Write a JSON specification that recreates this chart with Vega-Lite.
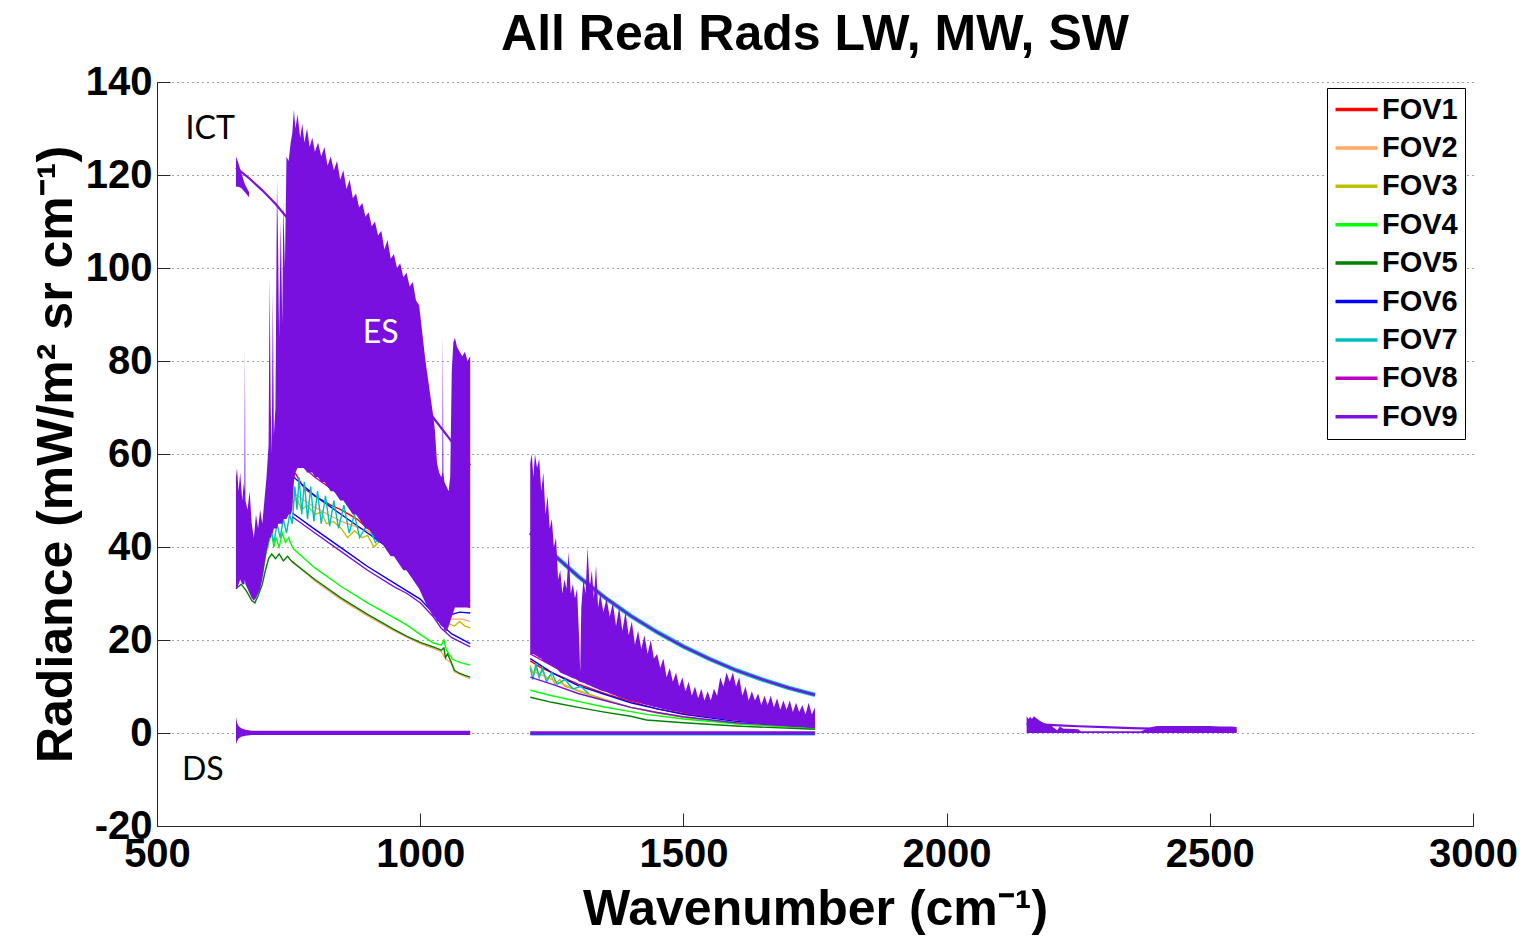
{
"$schema": "https://vega.github.io/schema/vega-lite/v6.json",
"width": 1316, "height": 744,
"autosize": {"type": "none"},
"padding": {"left": 157, "top": 82, "right": 49, "bottom": 113},
"background": "white",
"title": {"text": "All Real Rads LW, MW, SW", "font": "Liberation Sans", "fontSize": 50, "fontWeight": "bold", "anchor": "middle", "frame": "group", "baseline": "alphabetic", "offset": 14, "dy": 52, "color": "black"},
"config": {
  "view": {"stroke": null},
  "axisX": {"grid": false, "tickSize": -13, "labelPadding": 21, "labelFontSize": 40, "labelFont": "Liberation Sans", "labelFontWeight": "bold", "labelColor": "black", "labelOverlap": false, "labelFlush": false, "titleFontSize": 50, "titleFont": "Liberation Sans", "titleFontWeight": "bold", "titleColor": "black", "titlePadding": 10, "domainColor": "#262626", "tickColor": "#262626"},
  "axisY": {"grid": true, "gridDash": [1,4], "gridColor": "#444", "tickSize": -13, "labelPadding": 18, "labelFontSize": 40, "labelFont": "Liberation Sans", "labelFontWeight": "bold", "labelColor": "black", "labelOverlap": false, "labelFlush": false, "titleFontSize": 50, "titleFont": "Liberation Sans", "titleFontWeight": "bold", "titleColor": "black", "titlePadding": 4, "domainColor": "#262626", "tickColor": "#262626"},
  "legend": {"title": null, "orient": "none", "legendX": 1170, "legendY": 6, "strokeColor": "black", "fillColor": "white", "padding": 7, "symbolType": "M-1.75,0H1.75", "symbolSize": 576, "symbolStrokeWidth": 3.5, "symbolOffset": 8, "labelOffset": 11, "labelFontSize": 29, "labelFont": "Liberation Sans", "labelFontWeight": "bold", "labelColor": "black", "rowPadding": 8.4}
},
"datasets": {
"spec": [
{"fov":"FOV1","grp":"1L","wn":762,"rad":56},{"fov":"FOV1","grp":"1L","wn":780,"rad":52.5},{"fov":"FOV1","grp":"1L","wn":800,"rad":51},{"fov":"FOV1","grp":"1L","wn":830,"rad":49},{"fov":"FOV1","grp":"1L","wn":850,"rad":48},{"fov":"FOV1","grp":"1L","wn":880,"rad":46},{"fov":"FOV1","grp":"1L","wn":900,"rad":44},{"fov":"FOV1","grp":"1L","wn":930,"rad":42},{"fov":"FOV1","grp":"1L","wn":950,"rad":40},{"fov":"FOV1","grp":"1L","wn":975,"rad":37},{"fov":"FOV1","grp":"1L","wn":1000,"rad":33},{"fov":"FOV1","grp":"1L","wn":1020,"rad":30},{"fov":"FOV1","grp":"1L","wn":1040,"rad":28},{"fov":"FOV1","grp":"1L","wn":1060,"rad":27.5},{"fov":"FOV1","grp":"1L","wn":1080,"rad":27.5},{"fov":"FOV1","grp":"1L","wn":1095,"rad":27},
{"fov":"FOV1","grp":"1M","wn":1209,"rad":15.5},{"fov":"FOV1","grp":"1M","wn":1230,"rad":14},{"fov":"FOV1","grp":"1M","wn":1260,"rad":12.5},{"fov":"FOV1","grp":"1M","wn":1300,"rad":10.5},{"fov":"FOV1","grp":"1M","wn":1350,"rad":8.5},{"fov":"FOV1","grp":"1M","wn":1400,"rad":6.8},{"fov":"FOV1","grp":"1M","wn":1450,"rad":5.2},{"fov":"FOV1","grp":"1M","wn":1500,"rad":4.2},{"fov":"FOV1","grp":"1M","wn":1600,"rad":2.8},{"fov":"FOV1","grp":"1M","wn":1750,"rad":1.5},
{"fov":"FOV2","grp":"2La","wn":760,"rad":51.5},{"fov":"FOV2","grp":"2La","wn":800,"rad":48.5},{"fov":"FOV2","grp":"2La","wn":850,"rad":45.5},{"fov":"FOV2","grp":"2La","wn":900,"rad":43.5},{"fov":"FOV2","grp":"2La","wn":950,"rad":39},{"fov":"FOV2","grp":"2La","wn":975,"rad":36.5},{"fov":"FOV2","grp":"2La","wn":1000,"rad":32.5},{"fov":"FOV2","grp":"2La","wn":1024,"rad":27.5},{"fov":"FOV2","grp":"2La","wn":1040,"rad":25.5},{"fov":"FOV2","grp":"2La","wn":1060,"rad":24.5},{"fov":"FOV2","grp":"2La","wn":1080,"rad":24.5},{"fov":"FOV2","grp":"2La","wn":1095,"rad":24},
{"fov":"FOV2","grp":"2Lb","wn":757,"rad":37},{"fov":"FOV2","grp":"2Lb","wn":800,"rad":32.7},{"fov":"FOV2","grp":"2Lb","wn":850,"rad":28.7},{"fov":"FOV2","grp":"2Lb","wn":900,"rad":25.2},{"fov":"FOV2","grp":"2Lb","wn":950,"rad":22},{"fov":"FOV2","grp":"2Lb","wn":1000,"rad":19.2},{"fov":"FOV2","grp":"2Lb","wn":1025,"rad":18.2},{"fov":"FOV2","grp":"2Lb","wn":1040,"rad":17.5},{"fov":"FOV2","grp":"2Lb","wn":1048,"rad":16},{"fov":"FOV2","grp":"2Lb","wn":1058,"rad":15.2},{"fov":"FOV2","grp":"2Lb","wn":1065,"rad":13.2},{"fov":"FOV2","grp":"2Lb","wn":1080,"rad":12.4},{"fov":"FOV2","grp":"2Lb","wn":1095,"rad":11.7},
{"fov":"FOV2","grp":"2M","wn":1209,"rad":13.5},{"fov":"FOV2","grp":"2M","wn":1230,"rad":12.5},{"fov":"FOV2","grp":"2M","wn":1260,"rad":11},{"fov":"FOV2","grp":"2M","wn":1300,"rad":9.2},{"fov":"FOV2","grp":"2M","wn":1350,"rad":7.2},{"fov":"FOV2","grp":"2M","wn":1400,"rad":5.5},{"fov":"FOV2","grp":"2M","wn":1500,"rad":3.4},{"fov":"FOV2","grp":"2M","wn":1600,"rad":2.2},{"fov":"FOV2","grp":"2M","wn":1750,"rad":1.1},
{"fov":"FOV3","grp":"3L","wn":757,"rad":49.5},{"fov":"FOV3","grp":"3L","wn":765,"rad":50.5},{"fov":"FOV3","grp":"3L","wn":775,"rad":48},{"fov":"FOV3","grp":"3L","wn":785,"rad":49},{"fov":"FOV3","grp":"3L","wn":800,"rad":47},{"fov":"FOV3","grp":"3L","wn":812,"rad":47.5},{"fov":"FOV3","grp":"3L","wn":822,"rad":45},{"fov":"FOV3","grp":"3L","wn":835,"rad":45.5},{"fov":"FOV3","grp":"3L","wn":850,"rad":44},{"fov":"FOV3","grp":"3L","wn":862,"rad":42},{"fov":"FOV3","grp":"3L","wn":875,"rad":43.5},{"fov":"FOV3","grp":"3L","wn":890,"rad":42},{"fov":"FOV3","grp":"3L","wn":900,"rad":42.5},{"fov":"FOV3","grp":"3L","wn":912,"rad":40},{"fov":"FOV3","grp":"3L","wn":925,"rad":41.5},{"fov":"FOV3","grp":"3L","wn":937,"rad":40.8},{"fov":"FOV3","grp":"3L","wn":950,"rad":38.5},{"fov":"FOV3","grp":"3L","wn":962,"rad":37.5},{"fov":"FOV3","grp":"3L","wn":975,"rad":35},{"fov":"FOV3","grp":"3L","wn":990,"rad":33},{"fov":"FOV3","grp":"3L","wn":1000,"rad":31},{"fov":"FOV3","grp":"3L","wn":1012,"rad":29},{"fov":"FOV3","grp":"3L","wn":1024,"rad":26},{"fov":"FOV3","grp":"3L","wn":1035,"rad":24.5},{"fov":"FOV3","grp":"3L","wn":1045,"rad":23.5},{"fov":"FOV3","grp":"3L","wn":1050,"rad":22},{"fov":"FOV3","grp":"3L","wn":1055,"rad":23.5},{"fov":"FOV3","grp":"3L","wn":1065,"rad":23},{"fov":"FOV3","grp":"3L","wn":1075,"rad":24},{"fov":"FOV3","grp":"3L","wn":1085,"rad":23},{"fov":"FOV3","grp":"3L","wn":1095,"rad":22.6},
{"fov":"FOV3","grp":"3M","wn":1209,"rad":14.5},{"fov":"FOV3","grp":"3M","wn":1215,"rad":12.5},{"fov":"FOV3","grp":"3M","wn":1220,"rad":14},{"fov":"FOV3","grp":"3M","wn":1226,"rad":12},{"fov":"FOV3","grp":"3M","wn":1232,"rad":13.5},{"fov":"FOV3","grp":"3M","wn":1240,"rad":11.5},{"fov":"FOV3","grp":"3M","wn":1248,"rad":12.5},{"fov":"FOV3","grp":"3M","wn":1256,"rad":10.5},{"fov":"FOV3","grp":"3M","wn":1265,"rad":11.5},{"fov":"FOV3","grp":"3M","wn":1275,"rad":10},{"fov":"FOV3","grp":"3M","wn":1290,"rad":9.5},{"fov":"FOV3","grp":"3M","wn":1300,"rad":9},{"fov":"FOV3","grp":"3M","wn":1350,"rad":7.2},{"fov":"FOV3","grp":"3M","wn":1400,"rad":5.5},{"fov":"FOV3","grp":"3M","wn":1450,"rad":4.3},{"fov":"FOV3","grp":"3M","wn":1500,"rad":3.4},{"fov":"FOV3","grp":"3M","wn":1600,"rad":2},{"fov":"FOV3","grp":"3M","wn":1750,"rad":1},
{"fov":"FOV4","grp":"4L","wn":700,"rad":34},{"fov":"FOV4","grp":"4L","wn":706,"rad":38},{"fov":"FOV4","grp":"4L","wn":712,"rad":41},{"fov":"FOV4","grp":"4L","wn":718,"rad":43},{"fov":"FOV4","grp":"4L","wn":722,"rad":40},{"fov":"FOV4","grp":"4L","wn":726,"rad":42},{"fov":"FOV4","grp":"4L","wn":732,"rad":40},{"fov":"FOV4","grp":"4L","wn":738,"rad":43},{"fov":"FOV4","grp":"4L","wn":744,"rad":41},{"fov":"FOV4","grp":"4L","wn":750,"rad":42},{"fov":"FOV4","grp":"4L","wn":757,"rad":40},{"fov":"FOV4","grp":"4L","wn":760,"rad":39.5},{"fov":"FOV4","grp":"4L","wn":800,"rad":35.5},{"fov":"FOV4","grp":"4L","wn":850,"rad":31.5},{"fov":"FOV4","grp":"4L","wn":900,"rad":28},{"fov":"FOV4","grp":"4L","wn":950,"rad":24.8},{"fov":"FOV4","grp":"4L","wn":975,"rad":23.2},{"fov":"FOV4","grp":"4L","wn":1000,"rad":21.2},{"fov":"FOV4","grp":"4L","wn":1024,"rad":19.4},{"fov":"FOV4","grp":"4L","wn":1040,"rad":18.9},{"fov":"FOV4","grp":"4L","wn":1045,"rad":20},{"fov":"FOV4","grp":"4L","wn":1050,"rad":17.8},{"fov":"FOV4","grp":"4L","wn":1056,"rad":16.8},{"fov":"FOV4","grp":"4L","wn":1062,"rad":15.8},{"fov":"FOV4","grp":"4L","wn":1075,"rad":15.2},{"fov":"FOV4","grp":"4L","wn":1095,"rad":14.6},
{"fov":"FOV4","grp":"4M","wn":1209,"rad":9.2},{"fov":"FOV4","grp":"4M","wn":1250,"rad":8},{"fov":"FOV4","grp":"4M","wn":1300,"rad":6.8},{"fov":"FOV4","grp":"4M","wn":1350,"rad":5.6},{"fov":"FOV4","grp":"4M","wn":1400,"rad":4.6},{"fov":"FOV4","grp":"4M","wn":1430,"rad":4},{"fov":"FOV4","grp":"4M","wn":1500,"rad":3},{"fov":"FOV4","grp":"4M","wn":1600,"rad":2},{"fov":"FOV4","grp":"4M","wn":1750,"rad":1},
{"fov":"FOV5","grp":"5L","wn":650,"rad":31},{"fov":"FOV5","grp":"5L","wn":660,"rad":32},{"fov":"FOV5","grp":"5L","wn":670,"rad":30.5},{"fov":"FOV5","grp":"5L","wn":680,"rad":28.5},{"fov":"FOV5","grp":"5L","wn":686,"rad":28},{"fov":"FOV5","grp":"5L","wn":692,"rad":29.5},{"fov":"FOV5","grp":"5L","wn":700,"rad":32},{"fov":"FOV5","grp":"5L","wn":706,"rad":35},{"fov":"FOV5","grp":"5L","wn":712,"rad":37.5},{"fov":"FOV5","grp":"5L","wn":718,"rad":38.5},{"fov":"FOV5","grp":"5L","wn":725,"rad":37.5},{"fov":"FOV5","grp":"5L","wn":732,"rad":38.5},{"fov":"FOV5","grp":"5L","wn":740,"rad":37},{"fov":"FOV5","grp":"5L","wn":748,"rad":38},{"fov":"FOV5","grp":"5L","wn":757,"rad":36.8},{"fov":"FOV5","grp":"5L","wn":800,"rad":33},{"fov":"FOV5","grp":"5L","wn":850,"rad":29},{"fov":"FOV5","grp":"5L","wn":900,"rad":25.5},{"fov":"FOV5","grp":"5L","wn":950,"rad":22.3},{"fov":"FOV5","grp":"5L","wn":975,"rad":20.8},{"fov":"FOV5","grp":"5L","wn":1000,"rad":19.5},{"fov":"FOV5","grp":"5L","wn":1025,"rad":18.5},{"fov":"FOV5","grp":"5L","wn":1040,"rad":17.8},{"fov":"FOV5","grp":"5L","wn":1045,"rad":18.3},{"fov":"FOV5","grp":"5L","wn":1048,"rad":16.2},{"fov":"FOV5","grp":"5L","wn":1052,"rad":17},{"fov":"FOV5","grp":"5L","wn":1058,"rad":15.5},{"fov":"FOV5","grp":"5L","wn":1065,"rad":13.5},{"fov":"FOV5","grp":"5L","wn":1075,"rad":12.8},{"fov":"FOV5","grp":"5L","wn":1085,"rad":12.4},{"fov":"FOV5","grp":"5L","wn":1095,"rad":12},
{"fov":"FOV5","grp":"5M","wn":1209,"rad":7.7},{"fov":"FOV5","grp":"5M","wn":1250,"rad":6.6},{"fov":"FOV5","grp":"5M","wn":1300,"rad":5.5},{"fov":"FOV5","grp":"5M","wn":1350,"rad":4.5},{"fov":"FOV5","grp":"5M","wn":1400,"rad":3.6},{"fov":"FOV5","grp":"5M","wn":1430,"rad":2.8},{"fov":"FOV5","grp":"5M","wn":1500,"rad":2.2},{"fov":"FOV5","grp":"5M","wn":1600,"rad":1.5},{"fov":"FOV5","grp":"5M","wn":1750,"rad":0.8},
{"fov":"FOV6","grp":"6La","wn":760,"rad":55},{"fov":"FOV6","grp":"6La","wn":780,"rad":53},{"fov":"FOV6","grp":"6La","wn":800,"rad":51},{"fov":"FOV6","grp":"6La","wn":825,"rad":49},{"fov":"FOV6","grp":"6La","wn":850,"rad":47},{"fov":"FOV6","grp":"6La","wn":875,"rad":45},{"fov":"FOV6","grp":"6La","wn":900,"rad":43},{"fov":"FOV6","grp":"6La","wn":925,"rad":41},{"fov":"FOV6","grp":"6La","wn":950,"rad":39},{"fov":"FOV6","grp":"6La","wn":975,"rad":36.8},{"fov":"FOV6","grp":"6La","wn":1000,"rad":34},{"fov":"FOV6","grp":"6La","wn":1020,"rad":30.5},{"fov":"FOV6","grp":"6La","wn":1040,"rad":27},{"fov":"FOV6","grp":"6La","wn":1050,"rad":25},{"fov":"FOV6","grp":"6La","wn":1060,"rad":25.5},{"fov":"FOV6","grp":"6La","wn":1075,"rad":26},{"fov":"FOV6","grp":"6La","wn":1095,"rad":25.8},
{"fov":"FOV6","grp":"6Lb","wn":757,"rad":47.3},{"fov":"FOV6","grp":"6Lb","wn":800,"rad":43.8},{"fov":"FOV6","grp":"6Lb","wn":850,"rad":39.8},{"fov":"FOV6","grp":"6Lb","wn":900,"rad":35.8},{"fov":"FOV6","grp":"6Lb","wn":950,"rad":32.3},{"fov":"FOV6","grp":"6Lb","wn":1000,"rad":28.8},{"fov":"FOV6","grp":"6Lb","wn":1025,"rad":25.8},{"fov":"FOV6","grp":"6Lb","wn":1040,"rad":23.3},{"fov":"FOV6","grp":"6Lb","wn":1060,"rad":21.3},{"fov":"FOV6","grp":"6Lb","wn":1095,"rad":19.2},
{"fov":"FOV6","grp":"6M","wn":1209,"rad":16},{"fov":"FOV6","grp":"6M","wn":1250,"rad":13},{"fov":"FOV6","grp":"6M","wn":1300,"rad":10.2},{"fov":"FOV6","grp":"6M","wn":1350,"rad":8.3},{"fov":"FOV6","grp":"6M","wn":1400,"rad":6.5},{"fov":"FOV6","grp":"6M","wn":1450,"rad":5.2},{"fov":"FOV6","grp":"6M","wn":1500,"rad":4},{"fov":"FOV6","grp":"6M","wn":1600,"rad":2.5},{"fov":"FOV6","grp":"6M","wn":1750,"rad":1.3},
{"fov":"FOV6","grp":"6D","wn":1209,"rad":-0.3},{"fov":"FOV6","grp":"6D","wn":1750,"rad":-0.3},
{"fov":"FOV7","grp":"7L","wn":710,"rad":40},{"fov":"FOV7","grp":"7L","wn":716,"rad":44},{"fov":"FOV7","grp":"7L","wn":722,"rad":41},{"fov":"FOV7","grp":"7L","wn":728,"rad":45},{"fov":"FOV7","grp":"7L","wn":734,"rad":42},{"fov":"FOV7","grp":"7L","wn":740,"rad":46},{"fov":"FOV7","grp":"7L","wn":746,"rad":43},{"fov":"FOV7","grp":"7L","wn":752,"rad":47},{"fov":"FOV7","grp":"7L","wn":757,"rad":45},{"fov":"FOV7","grp":"7L","wn":762,"rad":53},{"fov":"FOV7","grp":"7L","wn":766,"rad":48},{"fov":"FOV7","grp":"7L","wn":770,"rad":55},{"fov":"FOV7","grp":"7L","wn":775,"rad":47},{"fov":"FOV7","grp":"7L","wn":780,"rad":54},{"fov":"FOV7","grp":"7L","wn":786,"rad":46},{"fov":"FOV7","grp":"7L","wn":792,"rad":53},{"fov":"FOV7","grp":"7L","wn":798,"rad":45.5},{"fov":"FOV7","grp":"7L","wn":805,"rad":52},{"fov":"FOV7","grp":"7L","wn":812,"rad":45},{"fov":"FOV7","grp":"7L","wn":820,"rad":51},{"fov":"FOV7","grp":"7L","wn":828,"rad":44.5},{"fov":"FOV7","grp":"7L","wn":836,"rad":50},{"fov":"FOV7","grp":"7L","wn":845,"rad":44},{"fov":"FOV7","grp":"7L","wn":855,"rad":49},{"fov":"FOV7","grp":"7L","wn":865,"rad":43},{"fov":"FOV7","grp":"7L","wn":875,"rad":47},{"fov":"FOV7","grp":"7L","wn":885,"rad":42},{"fov":"FOV7","grp":"7L","wn":900,"rad":45},{"fov":"FOV7","grp":"7L","wn":915,"rad":41},{"fov":"FOV7","grp":"7L","wn":930,"rad":43},{"fov":"FOV7","grp":"7L","wn":950,"rad":39},
{"fov":"FOV7","grp":"7M","wn":1209,"rad":14},{"fov":"FOV7","grp":"7M","wn":1214,"rad":11.5},{"fov":"FOV7","grp":"7M","wn":1220,"rad":15},{"fov":"FOV7","grp":"7M","wn":1226,"rad":12},{"fov":"FOV7","grp":"7M","wn":1232,"rad":14},{"fov":"FOV7","grp":"7M","wn":1240,"rad":11},{"fov":"FOV7","grp":"7M","wn":1250,"rad":13},{"fov":"FOV7","grp":"7M","wn":1260,"rad":10.5},{"fov":"FOV7","grp":"7M","wn":1275,"rad":11.5},{"fov":"FOV7","grp":"7M","wn":1290,"rad":9.5},{"fov":"FOV7","grp":"7M","wn":1305,"rad":10},{"fov":"FOV7","grp":"7M","wn":1320,"rad":8.5},
{"fov":"FOV7","grp":"7D","wn":1209,"rad":-0.4},{"fov":"FOV7","grp":"7D","wn":1750,"rad":-0.4},
{"fov":"FOV8","grp":"8L","wn":770,"rad":58},{"fov":"FOV8","grp":"8L","wn":800,"rad":55},{"fov":"FOV8","grp":"8L","wn":850,"rad":51},{"fov":"FOV8","grp":"8L","wn":900,"rad":47},{"fov":"FOV8","grp":"8L","wn":950,"rad":43},{"fov":"FOV8","grp":"8L","wn":1000,"rad":36},{"fov":"FOV8","grp":"8L","wn":1040,"rad":30},{"fov":"FOV8","grp":"8L","wn":1060,"rad":29},{"fov":"FOV8","grp":"8L","wn":1095,"rad":28.5},
{"fov":"FOV8","grp":"8M","wn":1209,"rad":17},{"fov":"FOV8","grp":"8M","wn":1250,"rad":14.5},{"fov":"FOV8","grp":"8M","wn":1300,"rad":11.5},{"fov":"FOV8","grp":"8M","wn":1400,"rad":7},{"fov":"FOV8","grp":"8M","wn":1500,"rad":4.5},{"fov":"FOV8","grp":"8M","wn":1750,"rad":1.8},
{"fov":"FOV9","grp":"9L","wn":757,"rad":46.5},{"fov":"FOV9","grp":"9L","wn":800,"rad":43},{"fov":"FOV9","grp":"9L","wn":850,"rad":39},{"fov":"FOV9","grp":"9L","wn":900,"rad":35},{"fov":"FOV9","grp":"9L","wn":950,"rad":31.5},{"fov":"FOV9","grp":"9L","wn":975,"rad":30},{"fov":"FOV9","grp":"9L","wn":1000,"rad":28},{"fov":"FOV9","grp":"9L","wn":1025,"rad":25},{"fov":"FOV9","grp":"9L","wn":1040,"rad":22.5},{"fov":"FOV9","grp":"9L","wn":1060,"rad":20.5},{"fov":"FOV9","grp":"9L","wn":1095,"rad":18.5},
{"fov":"FOV9","grp":"9M","wn":1209,"rad":12},{"fov":"FOV9","grp":"9M","wn":1250,"rad":10.5},{"fov":"FOV9","grp":"9M","wn":1300,"rad":8.5},{"fov":"FOV9","grp":"9M","wn":1350,"rad":7},{"fov":"FOV9","grp":"9M","wn":1400,"rad":5.5},{"fov":"FOV9","grp":"9M","wn":1450,"rad":4.4},{"fov":"FOV9","grp":"9M","wn":1500,"rad":3.5},{"fov":"FOV9","grp":"9M","wn":1600,"rad":2.2},{"fov":"FOV9","grp":"9M","wn":1750,"rad":1.2}
],
"ict": [
{"fov":"FOV7","grp":"7I","wn":1209,"rad":43.1},{"fov":"FOV7","grp":"7I","wn":1260,"rad":37.7},{"fov":"FOV7","grp":"7I","wn":1300,"rad":33.7},{"fov":"FOV7","grp":"7I","wn":1350,"rad":29.2},{"fov":"FOV7","grp":"7I","wn":1400,"rad":25.2},{"fov":"FOV7","grp":"7I","wn":1450,"rad":21.7},{"fov":"FOV7","grp":"7I","wn":1500,"rad":18.6},{"fov":"FOV7","grp":"7I","wn":1550,"rad":15.9},{"fov":"FOV7","grp":"7I","wn":1600,"rad":13.5},{"fov":"FOV7","grp":"7I","wn":1650,"rad":11.5},{"fov":"FOV7","grp":"7I","wn":1700,"rad":9.7},{"fov":"FOV7","grp":"7I","wn":1750,"rad":8.2},
{"fov":"FOV9","grp":"9IL","wn":650,"rad":121.6},{"fov":"FOV9","grp":"9IL","wn":675,"rad":119.3},{"fov":"FOV9","grp":"9IL","wn":700,"rad":116.7},{"fov":"FOV9","grp":"9IL","wn":725,"rad":113.8},{"fov":"FOV9","grp":"9IL","wn":750,"rad":110.4},{"fov":"FOV9","grp":"9IL","wn":800,"rad":103.2},{"fov":"FOV9","grp":"9IL","wn":850,"rad":95.5},{"fov":"FOV9","grp":"9IL","wn":900,"rad":87.4},{"fov":"FOV9","grp":"9IL","wn":950,"rad":79.5},{"fov":"FOV9","grp":"9IL","wn":1000,"rad":71.6},{"fov":"FOV9","grp":"9IL","wn":1025,"rad":67.8},{"fov":"FOV9","grp":"9IL","wn":1050,"rad":64.1},{"fov":"FOV9","grp":"9IL","wn":1075,"rad":60.4},{"fov":"FOV9","grp":"9IL","wn":1095,"rad":57.6},
{"fov":"FOV9","grp":"9IM","wn":1209,"rad":43.1},{"fov":"FOV9","grp":"9IM","wn":1260,"rad":37.7},{"fov":"FOV9","grp":"9IM","wn":1300,"rad":33.7},{"fov":"FOV9","grp":"9IM","wn":1350,"rad":29.2},{"fov":"FOV9","grp":"9IM","wn":1400,"rad":25.2},{"fov":"FOV9","grp":"9IM","wn":1450,"rad":21.7},{"fov":"FOV9","grp":"9IM","wn":1500,"rad":18.6},{"fov":"FOV9","grp":"9IM","wn":1550,"rad":15.9},{"fov":"FOV9","grp":"9IM","wn":1600,"rad":13.5},{"fov":"FOV9","grp":"9IM","wn":1650,"rad":11.5},{"fov":"FOV9","grp":"9IM","wn":1700,"rad":9.7},{"fov":"FOV9","grp":"9IM","wn":1750,"rad":8.2},
{"fov":"FOV9","grp":"9IS","wn":2152,"rad":1.95},{"fov":"FOV9","grp":"9IS","wn":2203,"rad":1.7},{"fov":"FOV9","grp":"9IS","wn":2250,"rad":1.45},{"fov":"FOV9","grp":"9IS","wn":2300,"rad":1.25},{"fov":"FOV9","grp":"9IS","wn":2350,"rad":1.05},{"fov":"FOV9","grp":"9IS","wn":2390,"rad":0.95},{"fov":"FOV9","grp":"9IS","wn":2450,"rad":0.8},{"fov":"FOV9","grp":"9IS","wn":2500,"rad":0.65},{"fov":"FOV9","grp":"9IS","wn":2551,"rad":0.5}
],
"mass": [
{"grp":"LD","wn":650,"lo":-2.4,"hi":3.5},{"grp":"LD","wn":652,"lo":-1.8,"hi":2.2},{"grp":"LD","wn":655,"lo":-1.2,"hi":1.5},{"grp":"LD","wn":660,"lo":-0.8,"hi":1},{"grp":"LD","wn":668,"lo":-0.6,"hi":0.7},{"grp":"LD","wn":680,"lo":-0.45,"hi":0.5},{"grp":"LD","wn":1095,"lo":-0.45,"hi":0.5},
{"grp":"MD","wn":1209,"lo":-0.4,"hi":0.4},{"grp":"MD","wn":1750,"lo":-0.4,"hi":0.4},
{"grp":"LI","wn":650,"lo":117.5,"hi":124},{"grp":"LI","wn":655,"lo":117.5,"hi":122.5},{"grp":"LI","wn":660,"lo":117.2,"hi":120.5},{"grp":"LI","wn":667,"lo":116.3,"hi":118},{"grp":"LI","wn":675,"lo":115.2,"hi":116.3},
{"grp":"LE","wn":650,"lo":31,"hi":55},{"grp":"LE","wn":652,"lo":31,"hi":57},{"grp":"LE","wn":655,"lo":32,"hi":52},{"grp":"LE","wn":658,"lo":33,"hi":56},{"grp":"LE","wn":662,"lo":32,"hi":50},{"grp":"LE","wn":665,"lo":32,"hi":54},{"grp":"LE","wn":666,"lo":32,"hi":52},{"grp":"LE","wn":667,"lo":33,"hi":83},{"grp":"LE","wn":668,"lo":32,"hi":50},{"grp":"LE","wn":672,"lo":31,"hi":48},{"grp":"LE","wn":676,"lo":30,"hi":52},{"grp":"LE","wn":680,"lo":29,"hi":45},{"grp":"LE","wn":684,"lo":28.5,"hi":42},{"grp":"LE","wn":688,"lo":29,"hi":47},{"grp":"LE","wn":692,"lo":30,"hi":44},{"grp":"LE","wn":696,"lo":31,"hi":48},{"grp":"LE","wn":700,"lo":33,"hi":45},{"grp":"LE","wn":704,"lo":36,"hi":50},{"grp":"LE","wn":708,"lo":39,"hi":55},{"grp":"LE","wn":712,"lo":41,"hi":62},{"grp":"LE","wn":714,"lo":42,"hi":98},{"grp":"LE","wn":716,"lo":42,"hi":70},{"grp":"LE","wn":718,"lo":43,"hi":60},{"grp":"LE","wn":720,"lo":43,"hi":95},{"grp":"LE","wn":722,"lo":44,"hi":64},{"grp":"LE","wn":725,"lo":44,"hi":70},{"grp":"LE","wn":728,"lo":44,"hi":119},{"grp":"LE","wn":730,"lo":45,"hi":105},{"grp":"LE","wn":732,"lo":45,"hi":85},{"grp":"LE","wn":735,"lo":45,"hi":110},{"grp":"LE","wn":738,"lo":45,"hi":88},{"grp":"LE","wn":740,"lo":46,"hi":114},{"grp":"LE","wn":743,"lo":46,"hi":100},{"grp":"LE","wn":746,"lo":46,"hi":124},{"grp":"LE","wn":750,"lo":47,"hi":123},{"grp":"LE","wn":754,"lo":47,"hi":127},{"grp":"LE","wn":757,"lo":48,"hi":129},{"grp":"LE","wn":760,"lo":54,"hi":134},{"grp":"LE","wn":763,"lo":56,"hi":130},{"grp":"LE","wn":767,"lo":57,"hi":133},{"grp":"LE","wn":772,"lo":57,"hi":128},{"grp":"LE","wn":776,"lo":57,"hi":131},{"grp":"LE","wn":780,"lo":57,"hi":127},{"grp":"LE","wn":785,"lo":56,"hi":130},{"grp":"LE","wn":790,"lo":56,"hi":126},{"grp":"LE","wn":795,"lo":56,"hi":128},{"grp":"LE","wn":800,"lo":55,"hi":125},{"grp":"LE","wn":806,"lo":55,"hi":127},{"grp":"LE","wn":812,"lo":54,"hi":124},{"grp":"LE","wn":818,"lo":54,"hi":126},{"grp":"LE","wn":824,"lo":53,"hi":122},{"grp":"LE","wn":830,"lo":52,"hi":124},{"grp":"LE","wn":836,"lo":52,"hi":121},{"grp":"LE","wn":842,"lo":51,"hi":123},{"grp":"LE","wn":848,"lo":50,"hi":119},{"grp":"LE","wn":854,"lo":50,"hi":121},{"grp":"LE","wn":860,"lo":49,"hi":117},{"grp":"LE","wn":866,"lo":48,"hi":119},{"grp":"LE","wn":872,"lo":47,"hi":115},{"grp":"LE","wn":878,"lo":47,"hi":116},{"grp":"LE","wn":884,"lo":46,"hi":113},{"grp":"LE","wn":890,"lo":45,"hi":114},{"grp":"LE","wn":896,"lo":44,"hi":111},{"grp":"LE","wn":902,"lo":44,"hi":112},{"grp":"LE","wn":908,"lo":43,"hi":109},{"grp":"LE","wn":914,"lo":42,"hi":110},{"grp":"LE","wn":920,"lo":41,"hi":107},{"grp":"LE","wn":926,"lo":41,"hi":108},{"grp":"LE","wn":932,"lo":40,"hi":104},{"grp":"LE","wn":938,"lo":39,"hi":106},{"grp":"LE","wn":944,"lo":38,"hi":102},{"grp":"LE","wn":950,"lo":38,"hi":103},{"grp":"LE","wn":956,"lo":37,"hi":100},{"grp":"LE","wn":962,"lo":36,"hi":101},{"grp":"LE","wn":968,"lo":35,"hi":98},{"grp":"LE","wn":974,"lo":35,"hi":99},{"grp":"LE","wn":980,"lo":34,"hi":96},{"grp":"LE","wn":986,"lo":33,"hi":97},{"grp":"LE","wn":992,"lo":32,"hi":93},{"grp":"LE","wn":998,"lo":31,"hi":92},{"grp":"LE","wn":1002,"lo":30,"hi":88},{"grp":"LE","wn":1006,"lo":29,"hi":84},{"grp":"LE","wn":1010,"lo":28,"hi":80},{"grp":"LE","wn":1015,"lo":27,"hi":76},{"grp":"LE","wn":1020,"lo":26,"hi":72},{"grp":"LE","wn":1025,"lo":25,"hi":68},{"grp":"LE","wn":1028,"lo":25,"hi":65},{"grp":"LE","wn":1032,"lo":24,"hi":58},{"grp":"LE","wn":1036,"lo":24,"hi":56},{"grp":"LE","wn":1040,"lo":23,"hi":55},{"grp":"LE","wn":1042,"lo":23,"hi":56},{"grp":"LE","wn":1043,"lo":23,"hi":86},{"grp":"LE","wn":1044,"lo":23,"hi":56},{"grp":"LE","wn":1046,"lo":22,"hi":54},{"grp":"LE","wn":1050,"lo":22,"hi":53},{"grp":"LE","wn":1054,"lo":23,"hi":52},{"grp":"LE","wn":1057,"lo":24,"hi":55},{"grp":"LE","wn":1060,"lo":25,"hi":78},{"grp":"LE","wn":1063,"lo":26,"hi":84},{"grp":"LE","wn":1066,"lo":27,"hi":85},{"grp":"LE","wn":1070,"lo":27,"hi":83},{"grp":"LE","wn":1075,"lo":27,"hi":82},{"grp":"LE","wn":1080,"lo":27,"hi":81},{"grp":"LE","wn":1085,"lo":27,"hi":82},{"grp":"LE","wn":1090,"lo":27,"hi":80},{"grp":"LE","wn":1095,"lo":27,"hi":81},
{"grp":"ME","wn":1209,"lo":17,"hi":58},{"grp":"ME","wn":1212,"lo":17,"hi":60},{"grp":"ME","wn":1215,"lo":17,"hi":55},{"grp":"ME","wn":1218,"lo":16.8,"hi":60},{"grp":"ME","wn":1222,"lo":16.5,"hi":57},{"grp":"ME","wn":1226,"lo":16.2,"hi":59},{"grp":"ME","wn":1230,"lo":16,"hi":52},{"grp":"ME","wn":1234,"lo":15.5,"hi":56},{"grp":"ME","wn":1238,"lo":15.2,"hi":47},{"grp":"ME","wn":1242,"lo":15,"hi":51},{"grp":"ME","wn":1246,"lo":14.7,"hi":44},{"grp":"ME","wn":1250,"lo":14.5,"hi":46},{"grp":"ME","wn":1254,"lo":14.2,"hi":40},{"grp":"ME","wn":1258,"lo":14,"hi":42},{"grp":"ME","wn":1262,"lo":13.5,"hi":33},{"grp":"ME","wn":1266,"lo":13,"hi":35},{"grp":"ME","wn":1270,"lo":12.8,"hi":30},{"grp":"ME","wn":1274,"lo":12.6,"hi":33},{"grp":"ME","wn":1278,"lo":12.4,"hi":31},{"grp":"ME","wn":1282,"lo":12.2,"hi":39},{"grp":"ME","wn":1286,"lo":12,"hi":30},{"grp":"ME","wn":1290,"lo":11.8,"hi":32},{"grp":"ME","wn":1294,"lo":11.7,"hi":29},{"grp":"ME","wn":1298,"lo":11.5,"hi":31},{"grp":"ME","wn":1302,"lo":11,"hi":20},{"grp":"ME","wn":1304,"lo":11,"hi":13},{"grp":"ME","wn":1306,"lo":10.9,"hi":27},{"grp":"ME","wn":1310,"lo":10.8,"hi":33},{"grp":"ME","wn":1314,"lo":10.6,"hi":30},{"grp":"ME","wn":1318,"lo":10.4,"hi":40},{"grp":"ME","wn":1322,"lo":10.2,"hi":31},{"grp":"ME","wn":1326,"lo":10,"hi":35},{"grp":"ME","wn":1330,"lo":9.8,"hi":29},{"grp":"ME","wn":1334,"lo":9.6,"hi":36},{"grp":"ME","wn":1338,"lo":9.4,"hi":27},{"grp":"ME","wn":1342,"lo":9.2,"hi":30},{"grp":"ME","wn":1348,"lo":9,"hi":26},{"grp":"ME","wn":1354,"lo":8.8,"hi":29},{"grp":"ME","wn":1360,"lo":8.5,"hi":25},{"grp":"ME","wn":1366,"lo":8.2,"hi":28},{"grp":"ME","wn":1372,"lo":8,"hi":23},{"grp":"ME","wn":1378,"lo":7.7,"hi":27},{"grp":"ME","wn":1384,"lo":7.5,"hi":22},{"grp":"ME","wn":1390,"lo":7.3,"hi":26},{"grp":"ME","wn":1396,"lo":7.1,"hi":21},{"grp":"ME","wn":1402,"lo":7,"hi":24},{"grp":"ME","wn":1408,"lo":6.8,"hi":19},{"grp":"ME","wn":1414,"lo":6.6,"hi":22},{"grp":"ME","wn":1420,"lo":6.4,"hi":18},{"grp":"ME","wn":1426,"lo":6.2,"hi":21},{"grp":"ME","wn":1432,"lo":6,"hi":17},{"grp":"ME","wn":1438,"lo":5.8,"hi":20},{"grp":"ME","wn":1444,"lo":5.6,"hi":16},{"grp":"ME","wn":1450,"lo":5.5,"hi":17},{"grp":"ME","wn":1456,"lo":5.3,"hi":14},{"grp":"ME","wn":1462,"lo":5.1,"hi":16},{"grp":"ME","wn":1468,"lo":5,"hi":12},{"grp":"ME","wn":1474,"lo":4.9,"hi":14},{"grp":"ME","wn":1480,"lo":4.7,"hi":11},{"grp":"ME","wn":1486,"lo":4.6,"hi":13},{"grp":"ME","wn":1492,"lo":4.5,"hi":10},{"grp":"ME","wn":1498,"lo":4.4,"hi":12},{"grp":"ME","wn":1504,"lo":4.2,"hi":9},{"grp":"ME","wn":1510,"lo":4.1,"hi":11},{"grp":"ME","wn":1516,"lo":4,"hi":8},{"grp":"ME","wn":1522,"lo":3.9,"hi":10},{"grp":"ME","wn":1528,"lo":3.8,"hi":7.5},{"grp":"ME","wn":1534,"lo":3.7,"hi":9.5},{"grp":"ME","wn":1540,"lo":3.6,"hi":7},{"grp":"ME","wn":1546,"lo":3.5,"hi":9},{"grp":"ME","wn":1552,"lo":3.3,"hi":7},{"grp":"ME","wn":1558,"lo":3.2,"hi":9.5},{"grp":"ME","wn":1564,"lo":3.1,"hi":8},{"grp":"ME","wn":1570,"lo":3,"hi":12},{"grp":"ME","wn":1576,"lo":3,"hi":10},{"grp":"ME","wn":1582,"lo":2.9,"hi":13},{"grp":"ME","wn":1588,"lo":2.9,"hi":11},{"grp":"ME","wn":1594,"lo":2.8,"hi":13},{"grp":"ME","wn":1600,"lo":2.8,"hi":10},{"grp":"ME","wn":1606,"lo":2.6,"hi":12},{"grp":"ME","wn":1612,"lo":2.5,"hi":8},{"grp":"ME","wn":1618,"lo":2.4,"hi":10},{"grp":"ME","wn":1624,"lo":2.3,"hi":7},{"grp":"ME","wn":1630,"lo":2.2,"hi":9},{"grp":"ME","wn":1636,"lo":2.2,"hi":7},{"grp":"ME","wn":1642,"lo":2.1,"hi":8.5},{"grp":"ME","wn":1648,"lo":2,"hi":6},{"grp":"ME","wn":1654,"lo":1.8,"hi":8},{"grp":"ME","wn":1660,"lo":1.8,"hi":6},{"grp":"ME","wn":1666,"lo":1.7,"hi":8},{"grp":"ME","wn":1672,"lo":1.7,"hi":5.5},{"grp":"ME","wn":1678,"lo":1.6,"hi":7.5},{"grp":"ME","wn":1684,"lo":1.6,"hi":5},{"grp":"ME","wn":1690,"lo":1.5,"hi":7},{"grp":"ME","wn":1696,"lo":1.5,"hi":5},{"grp":"ME","wn":1702,"lo":1.4,"hi":7},{"grp":"ME","wn":1708,"lo":1.4,"hi":4.5},{"grp":"ME","wn":1714,"lo":1.4,"hi":6.5},{"grp":"ME","wn":1720,"lo":1.3,"hi":4.5},{"grp":"ME","wn":1726,"lo":1.3,"hi":6},{"grp":"ME","wn":1732,"lo":1.3,"hi":4},{"grp":"ME","wn":1738,"lo":1.2,"hi":6.5},{"grp":"ME","wn":1744,"lo":1.2,"hi":4},{"grp":"ME","wn":1750,"lo":1.2,"hi":5.5},
{"grp":"SE","wn":2152,"lo":0,"hi":3.6},{"grp":"SE","wn":2156,"lo":0,"hi":3},{"grp":"SE","wn":2159,"lo":0,"hi":3.5},{"grp":"SE","wn":2162,"lo":0,"hi":3},{"grp":"SE","wn":2166,"lo":0,"hi":3.6},{"grp":"SE","wn":2170,"lo":0,"hi":3.2},{"grp":"SE","wn":2175,"lo":0,"hi":2.8},{"grp":"SE","wn":2180,"lo":0,"hi":2.4},{"grp":"SE","wn":2186,"lo":0,"hi":2.1},{"grp":"SE","wn":2192,"lo":0,"hi":1.9},{"grp":"SE","wn":2198,"lo":0,"hi":1.7},{"grp":"SE","wn":2203,"lo":0,"hi":1.2},{"grp":"SE","wn":2210,"lo":0,"hi":0.6},{"grp":"SE","wn":2215,"lo":0,"hi":1.4},{"grp":"SE","wn":2222,"lo":0,"hi":0.9},{"grp":"SE","wn":2232,"lo":0,"hi":0.9},{"grp":"SE","wn":2250,"lo":0,"hi":0.8},{"grp":"SE","wn":2255,"lo":0,"hi":0.4},{"grp":"SE","wn":2300,"lo":0,"hi":0.4},{"grp":"SE","wn":2370,"lo":0,"hi":0.4},{"grp":"SE","wn":2380,"lo":0,"hi":0.9},{"grp":"SE","wn":2390,"lo":0,"hi":1.3},{"grp":"SE","wn":2400,"lo":0,"hi":1.5},{"grp":"SE","wn":2450,"lo":0,"hi":1.5},{"grp":"SE","wn":2500,"lo":0,"hi":1.5},{"grp":"SE","wn":2520,"lo":0,"hi":1.4},{"grp":"SE","wn":2540,"lo":0,"hi":1.4},{"grp":"SE","wn":2551,"lo":0,"hi":1.3}
],
"notes": [
{"label":"ICT","wn":601,"rad":130},{"label":"ES","wn":925,"rad":86},{"label":"DS","wn":587,"rad":-8}
]
},
"layer": [
{
"data": {"name": "ict"},
"transform": [{"filter": "datum.fov === 'FOV7'"}],
"mark": {"type": "line", "strokeWidth": 4.5},
"encoding": {
"x": {"field": "wn", "type": "quantitative", "title": "Wavenumber (cm⁻¹)", "scale": {"domain": [500, 3000], "nice": false, "zero": false}, "axis": {"values": [500,1000,1500,2000,2500,3000], "labelExpr": "'' + datum.value"}},
"y": {"field": "rad", "type": "quantitative", "title": "Radiance (mW/m² sr cm⁻¹)", "scale": {"domain": [-20, 140], "nice": false, "zero": false}, "axis": {"values": [-20,0,20,40,60,80,100,120,140], "labelExpr": "'' + datum.value"}},
"color": {"field": "fov", "type": "nominal", "scale": {"domain": ["FOV1","FOV2","FOV3","FOV4","FOV5","FOV6","FOV7","FOV8","FOV9"], "range": ["#FF0000","#FFA860","#C0C000","#00FF00","#008000","#0000FF","#00BFBF","#BF00BF","#7A10E0"]}},
"detail": {"field": "grp"}
}
},
{
"data": {"name": "spec"},
"mark": {"type": "line", "strokeWidth": 1.4},
"encoding": {
"x": {"field": "wn", "type": "quantitative", "title": "Wavenumber (cm⁻¹)"},
"y": {"field": "rad", "type": "quantitative", "title": "Radiance (mW/m² sr cm⁻¹)"},
"color": {"field": "fov", "type": "nominal"},
"detail": {"field": "grp"}
}
},
{
"data": {"name": "mass"},
"mark": {"type": "area", "color": "#7A10E0", "opacity": 1},
"encoding": {
"x": {"field": "wn", "type": "quantitative", "title": "Wavenumber (cm⁻¹)"},
"y": {"field": "lo", "type": "quantitative", "title": "Radiance (mW/m² sr cm⁻¹)"},
"y2": {"field": "hi"},
"detail": {"field": "grp"}
}
},
{
"data": {"name": "ict"},
"transform": [{"filter": "datum.fov === 'FOV9'"}],
"mark": {"type": "line", "strokeWidth": 2.2},
"encoding": {
"x": {"field": "wn", "type": "quantitative", "title": "Wavenumber (cm⁻¹)"},
"y": {"field": "rad", "type": "quantitative", "title": "Radiance (mW/m² sr cm⁻¹)"},
"color": {"field": "fov", "type": "nominal"},
"detail": {"field": "grp"}
}
},
{
"data": {"name": "notes"},
"mark": {"type": "text", "font": "Lato", "fontSize": 32, "align": "center", "baseline": "middle"},
"encoding": {
"x": {"field": "wn", "type": "quantitative", "title": "Wavenumber (cm⁻¹)"},
"y": {"field": "rad", "type": "quantitative", "title": "Radiance (mW/m² sr cm⁻¹)"},
"text": {"field": "label"},
"color": {"condition": {"test": "datum.label === 'ES'", "value": "white"}, "value": "black"}
}
}
]
}
